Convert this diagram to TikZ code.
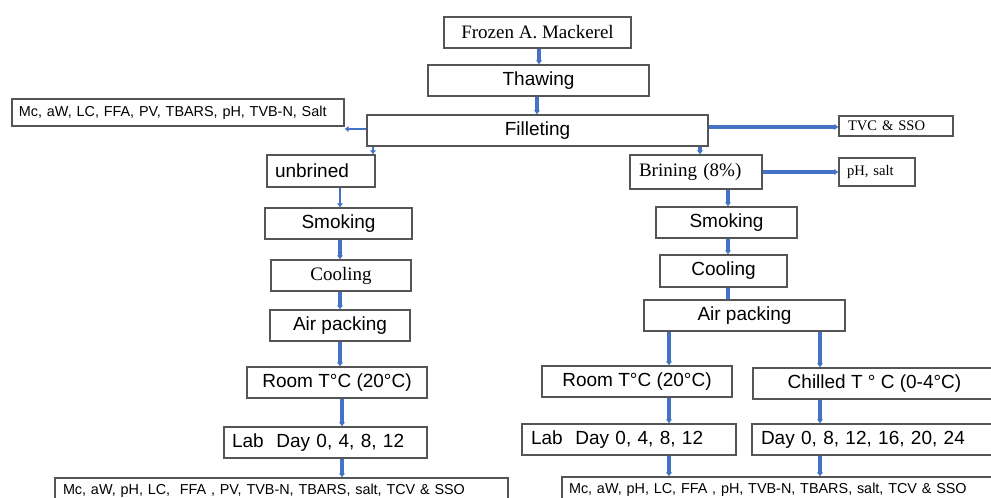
\documentclass[tikz,border=0pt]{standalone}
\usepackage{fontspec}
\setmainfont{Liberation Serif}
\setsansfont{Liberation Sans}
\usetikzlibrary{arrows.meta}
\definecolor{lineblue}{RGB}{68,114,196}
\definecolor{boxgray}{RGB}{85,85,85}
\begin{document}
\begin{tikzpicture}[x=1pt,y=-1pt,
  bx/.style={draw=boxgray, line width=1.1pt, inner sep=0pt, text=black, align=center,
    font=\sffamily\fontsize{19}{22}\selectfont},
  sbx/.style={bx, font=\rmfamily\fontsize{19}{22}\selectfont},
  smallsans/.style={font=\sffamily\fontsize{14.4}{17}\selectfont},
  smallserif/.style={font=\rmfamily\fontsize{14.6}{17}\selectfont},
  conn/.style={draw=lineblue, line width=3.2pt, -{Latex[length=4pt,width=6.5pt]}},
  thin/.style={line width=2.3pt},
  plain/.style={draw=lineblue, line width=3.2pt}]
\useasboundingbox (0,0) rectangle (991,498);
\clip (0,0) rectangle (991,498);
\fill[white] (0,0) rectangle (991,498);

% top chain
\node[sbx, minimum width=187pt, minimum height=31pt] (frozen) at (537.5,32.5) {Frozen A. Mackerel};
\node[bx, minimum width=221pt, minimum height=31pt] (thaw) at (538.5,80.5) {Thawing};
\node[bx, minimum width=341pt, minimum height=31pt] (fillet) at (537.5,130.5) {Filleting};
\node[bx, smallsans, minimum height=27pt, text width=318pt, inner xsep=7pt, align=left] (lparam) at (178,112.5) {Mc, aW, LC, FFA, PV, TBARS, pH, TVB-N, Salt};
\node[sbx, smallserif, minimum height=20pt, text width=96pt, inner xsep=9pt, align=left] (tvc) at (896,126) {TVC \& SSO};

% left column
\node[bx, minimum height=32pt, text width=92pt, inner xsep=8pt, align=left] (unbr) at (321,171) {unbrined};
\node[bx, minimum width=147pt, minimum height=31pt] (lsmoke) at (338.5,223.5) {Smoking};
\node[sbx, minimum width=140pt, minimum height=31pt] (lcool) at (341,275.5) {Cooling};
\node[bx, minimum width=140pt, minimum height=31pt] (lair) at (340,325.5) {Air packing};
\node[bx, minimum width=180pt, minimum height=31pt] (lroom) at (337,382.5) {Room T°C (20°C)};
\node[bx, minimum height=31pt, text width=187pt, inner xsep=8pt, align=left] (llab) at (325.5,442.5) {Lab\ \ Day 0, 4, 8, 12};
\node[bx, smallsans, minimum height=25pt, text width=437pt, inner xsep=8pt, align=left] (lbot) at (281.5,490.5) {Mc, aW, pH, LC,\ \ FFA , PV, TVB-N, TBARS, salt, TCV \& SSO};

% right column
\node[sbx, minimum height=34pt, text width=114pt, inner xsep=9pt, align=left] (brine) at (696,172) {Brining (8\%)};
\node[sbx, smallserif, minimum height=28pt, text width=60pt, inner xsep=8pt, align=left] (phsalt) at (877,172) {pH, salt};
\node[bx, minimum width=141pt, minimum height=31pt] (rsmoke) at (726.5,222.5) {Smoking};
\node[bx, minimum width=127pt, minimum height=32pt] (rcool) at (723.5,271) {Cooling};
\node[bx, minimum width=201pt, minimum height=31pt] (rair) at (744.5,315.5) {Air packing};
\node[bx, minimum width=190pt, minimum height=31pt] (rroom) at (637,381.5) {Room T°C (20°C)};
\node[bx, minimum width=243pt, minimum height=31pt] (chill) at (874.5,383.5) {Chilled T ° C (0-4°C)};
\node[bx, minimum height=31pt, text width=196pt, inner xsep=9pt, align=left] (rlab) at (629,439.5) {Lab\ \ Day 0, 4, 8, 12};
\node[bx, minimum height=31pt, text width=230pt, inner xsep=9pt, align=left] (rday) at (876,439.5) {Day 0, 8, 12, 16, 20, 24};
\node[bx, smallsans, minimum height=25pt, text width=423pt, inner xsep=7pt, align=left] (rbot) at (780.5,489.5) {Mc, aW, pH, LC, FFA , pH, TVB-N, TBARS, salt, TCV \& SSO};

% column coordinates
\coordinate (c1) at (539,0);
\coordinate (c2) at (537,0);
\coordinate (cl0) at (373,0);
\coordinate (cr0) at (700,0);
\coordinate (cl) at (340,0);
\coordinate (cl2) at (342,0);
\coordinate (cr) at (728,0);
\coordinate (cra) at (669,0);
\coordinate (crb) at (820,0);

% connectors
\draw[conn] (frozen.south -| c1) -- (thaw.north -| c1);
\draw[conn] (thaw.south -| c2) -- (fillet.north -| c2);
\draw[conn,thin] ([yshift=1.5pt]fillet.west) -- ([yshift=1.5pt]fillet.west -| lparam.east);
\draw[conn] ([yshift=3.5pt]fillet.east) -- ([yshift=3.5pt]fillet.east -| tvc.west);
\draw[conn,thin] (fillet.south -| cl0) -- (unbr.north -| cl0);
\draw[conn] (fillet.south -| cr0) -- (brine.north -| cr0);
\draw[conn, line width=4.6pt] (brine.east) -- (phsalt.west);

\draw[conn,thin] (unbr.south -| cl) -- (lsmoke.north -| cl);
\draw[conn] (lsmoke.south -| cl) -- (lcool.north -| cl);
\draw[conn] (lcool.south -| cl) -- (lair.north -| cl);
\draw[conn] (lair.south -| cl) -- (lroom.north -| cl);
\draw[conn] (lroom.south -| cl2) -- (llab.north -| cl2);
\draw[conn] (llab.south -| cl2) -- (lbot.north -| cl2);

\draw[conn] (brine.south -| cr) -- (rsmoke.north -| cr);
\draw[conn] (rsmoke.south -| cr) -- (rcool.north -| cr);
\draw[plain] (rcool.south -| cr) -- (rair.north -| cr);
\draw[conn] (rair.south -| cra) -- (rroom.north -| cra);
\draw[conn] (rair.south -| crb) -- (chill.north -| crb);
\draw[conn] (rroom.south -| cra) -- (rlab.north -| cra);
\draw[conn] (chill.south -| crb) -- (rday.north -| crb);
\draw[conn] (rlab.south -| cra) -- (rbot.north -| cra);
\draw[conn] (rday.south -| crb) -- (rbot.north -| crb);
\end{tikzpicture}
\end{document}
